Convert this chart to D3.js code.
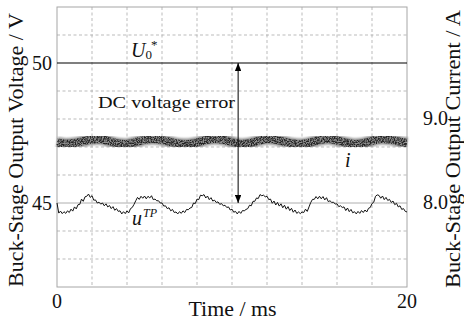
<!DOCTYPE html>
<html><head><meta charset="utf-8">
<script src="https://cdn.jsdelivr.net/npm/d3@7"></script>
<style>
body{margin:0;background:#fff}
svg{display:block}
text{font-family:"Liberation Serif",serif;fill:#111}
</style>
</head><body>
<svg id="chart" width="464" height="322" font-family="Liberation Serif"></svg>
<script>
// ---------- data ----------
const timeDomain = [0, 20];            // ms
const voltDomain = [42, 52];           // V (left axis)
const currDomain = [7, 10.3333];       // A (right axis)
const timeTicks = [0, 20];
const voltTicks = [45, 50];
const currTicks = [8.0, 9.0];
const timeGrid = [2, 4, 6, 8, 10, 12, 14, 16, 18];
const voltGrid = [43, 44, 46, 47, 48, 49, 51];
const voltSolidGrid = [45];
const refVoltage = 50;                 // U0*
const errorArrowTime = 10.35;          // ms
const errorArrowFrom = 50, errorArrowTo = 45;

const uStep = 0.1;                     // ms between samples
const uTP = [
 45.00,44.64,44.71,44.62,44.69,44.63,44.72,44.66,44.78,44.71,
 44.86,44.79,44.94,44.95,45.14,45.06,45.22,45.24,45.32,45.20,
 45.26,45.10,45.11,45.00,45.03,44.96,45.00,44.90,44.97,44.86,
 44.91,44.80,44.87,44.74,44.80,44.70,44.72,44.61,44.69,44.62,
 44.72,44.65,44.80,44.84,44.95,45.08,45.20,45.13,45.24,45.17,
 45.25,45.15,45.24,45.18,45.26,45.12,45.14,45.08,45.08,45.00,
 45.00,44.89,44.90,44.80,44.83,44.72,44.77,44.66,44.68,44.61,
 44.69,44.63,44.72,44.66,44.77,44.76,44.82,44.84,45.00,44.98,
 45.14,45.12,45.28,45.26,45.30,45.18,45.25,45.12,45.19,45.07,
 45.10,45.02,45.04,44.95,44.98,44.90,44.92,44.84,44.86,44.75,
 44.78,44.67,44.70,44.61,44.70,44.63,44.73,44.72,44.77,44.80,
 44.92,44.90,45.06,45.06,45.18,45.16,45.30,45.26,45.28,45.22,
 45.24,45.12,45.14,44.99,45.07,44.93,45.02,44.89,44.97,44.83,
 44.92,44.78,44.87,44.73,44.81,44.67,44.75,44.63,44.68,44.62,
 44.68,44.66,44.78,44.70,44.86,45.02,45.13,45.13,45.23,45.15,
 45.24,45.15,45.23,45.11,45.19,45.05,45.08,45.02,45.03,44.96,
 44.97,44.87,44.90,44.84,44.86,44.73,44.82,44.69,44.77,44.65,
 44.69,44.61,44.70,44.63,44.73,44.66,44.75,44.68,44.81,44.84,
 44.98,45.03,45.24,45.29,45.27,45.17,45.25,45.12,45.20,45.09,
 45.13,45.02,45.07,44.94,44.99,44.86,44.90,44.77,44.80,44.70,
 44.68
];

const iStep = 0.5;                     // ms between samples
const iOut = [
 8.720,8.706,8.714,8.736,8.757,8.758,8.734,8.708,8.704,8.726,
 8.752,8.762,8.748,8.726,8.706,8.702,8.720,8.748,8.762,8.752,
 8.726,8.702,8.712,8.740,8.762,8.752,8.730,8.708,8.702,8.722,
 8.750,8.762,8.744,8.720,8.702,8.712,8.740,8.761,8.756,8.734,
 8.714
];

// ---------- layout ----------
const m = {left: 57, right: 407, top: 7, bottom: 287};
const svg = d3.select("#chart");

const x = d3.scaleLinear().domain(timeDomain).range([m.left, m.right]);
const yV = d3.scaleLinear().domain(voltDomain).range([m.bottom, m.top]);
const yI = d3.scaleLinear().domain(currDomain).range([m.bottom, m.top]);

const defs = svg.append("defs");
defs.append("marker").attr("id","ah").attr("viewBox","0 0 10 8")
  .attr("refX",10).attr("refY",4).attr("markerWidth",8).attr("markerHeight",6.4)
  .attr("markerUnits","userSpaceOnUse").attr("orient","auto-start-reverse")
  .append("path").attr("d","M0,0 L10,4 L0,8 Z").attr("fill","#000");

const fb = defs.append("filter").attr("id","soft").attr("x","-5%").attr("y","-50%").attr("width","110%").attr("height","200%");
fb.append("feGaussianBlur").attr("in","SourceGraphic").attr("stdDeviation",0.9);

const f = defs.append("filter").attr("id","speckle").attr("x","-5%").attr("y","-50%").attr("width","110%").attr("height","200%");
f.append("feTurbulence").attr("type","fractalNoise").attr("baseFrequency",0.85).attr("numOctaves",2).attr("seed",7).attr("result","noise");
f.append("feColorMatrix").attr("in","noise").attr("type","matrix")
  .attr("values","0 0 0 0 0  0 0 0 0 0  0 0 0 0 0  0 0 0 3.2 -1.1").attr("result","mask");
f.append("feGaussianBlur").attr("in","SourceGraphic").attr("stdDeviation",0.6).attr("result","sg");
f.append("feComposite").attr("in","sg").attr("in2","mask").attr("operator","in");

// grid
const g = svg.append("g");
g.selectAll(".vg").data(timeGrid).join("line")
  .attr("x1",d=>x(d)).attr("x2",d=>x(d)).attr("y1",m.top).attr("y2",m.bottom)
  .attr("stroke","#aaa").attr("stroke-width",0.8).attr("stroke-dasharray","3,2.5");
g.selectAll(".hg").data(voltGrid).join("line")
  .attr("x1",m.left).attr("x2",m.right).attr("y1",d=>yV(d)).attr("y2",d=>yV(d))
  .attr("stroke","#aaa").attr("stroke-width",0.8).attr("stroke-dasharray","3,2.5");
g.selectAll(".hs").data(voltSolidGrid).join("line")
  .attr("x1",m.left).attr("x2",m.right).attr("y1",d=>yV(d)).attr("y2",d=>yV(d))
  .attr("stroke","#999").attr("stroke-width",0.8);

// frame
svg.append("rect").attr("x",m.left).attr("y",m.top).attr("width",m.right-m.left).attr("height",m.bottom-m.top)
  .attr("fill","none").attr("stroke","#a6a6a6").attr("stroke-width",1);

// current band
const iLine = d3.line().x((d,k)=>x(k*iStep)).y(d=>yI(d)).curve(d3.curveCatmullRom);
svg.append("path").datum(iOut).attr("d",iLine).attr("fill","none")
  .attr("stroke","#8e8e8e").attr("stroke-width",11).attr("filter","url(#soft)");
svg.append("path").datum(iOut).attr("d",iLine).attr("fill","none")
  .attr("stroke","#202020").attr("stroke-width",8).attr("filter","url(#speckle)");

// reference voltage
svg.append("line").attr("x1",x(timeDomain[0])).attr("x2",x(timeDomain[1]))
  .attr("y1",yV(refVoltage)).attr("y2",yV(refVoltage)).attr("stroke","#000").attr("stroke-width",1.2);

// uTP
const uLine = d3.line().x((d,k)=>x(k*uStep)).y(d=>yV(d));
svg.append("path").datum(uTP).attr("d",uLine).attr("fill","none")
  .attr("stroke","#111").attr("stroke-width",1).attr("stroke-linejoin","round");

// error arrow
svg.append("line").attr("x1",x(errorArrowTime)).attr("x2",x(errorArrowTime))
  .attr("y1",yV(errorArrowTo)).attr("y2",yV(errorArrowFrom))
  .attr("stroke","#000").attr("stroke-width",1)
  .attr("marker-start","url(#ah)").attr("marker-end","url(#ah)");

// tick labels
svg.selectAll(".vt").data(voltTicks).join("text")
  .attr("x",52).attr("y",d=>yV(d)+7).attr("text-anchor","end").attr("font-size",20).text(d=>d);
svg.selectAll(".ct").data(currTicks).join("text")
  .attr("x",423).attr("y",d=>yI(d)+6.5).attr("text-anchor","start").attr("font-size",20).text(d=>d.toFixed(1));
svg.selectAll(".tt").data(timeTicks).join("text")
  .attr("x",d=>x(d)).attr("y",308).attr("text-anchor","middle").attr("font-size",20).text(d=>d);

// axis titles
svg.append("text").attr("x",232.5).attr("y",316).attr("text-anchor","middle").attr("font-size",20)
  .attr("textLength",88).attr("lengthAdjust","spacingAndGlyphs").text("Time / ms");
svg.append("text").attr("transform","translate(23,150) rotate(-90)").attr("text-anchor","middle")
  .attr("font-size",20).attr("textLength",274).attr("lengthAdjust","spacingAndGlyphs").text("Buck-Stage Output Voltage / V");
svg.append("text").attr("transform","translate(459.5,149) rotate(-90)").attr("text-anchor","middle")
  .attr("font-size",20).attr("textLength",278).attr("lengthAdjust","spacingAndGlyphs").text("Buck-Stage Output Current / A");

// annotations
svg.append("text").attr("x",98).attr("y",107.5).attr("font-size",17)
  .attr("textLength",137).attr("lengthAdjust","spacingAndGlyphs").text("DC voltage error");
const u0 = svg.append("text").attr("x",131).attr("y",56.5).attr("font-size",20);
u0.append("tspan").attr("font-style","italic").text("U");
u0.append("tspan").attr("font-size",13).attr("dy",2.5).text("0");
u0.append("tspan").attr("font-size",13).attr("dx",-1).attr("dy",-10).text("*");
svg.append("text").attr("x",345).attr("y",167).attr("font-size",20).attr("font-style","italic").text("i");
const ut = svg.append("text").attr("x",132).attr("y",225).attr("font-size",20);
ut.append("tspan").attr("font-style","italic").text("u");
ut.append("tspan").attr("font-style","italic").attr("font-size",12).attr("dx",1).attr("dy",-8).text("TP");
</script>
</body></html>
